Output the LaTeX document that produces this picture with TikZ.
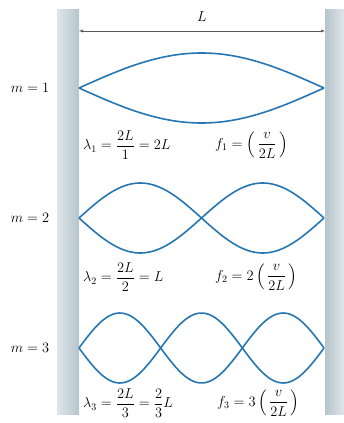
\documentclass[tikz,border=0pt]{standalone}
\usepackage{amsmath}
\usetikzlibrary{arrows.meta}

\definecolor{wireblue}{RGB}{38,118,178}
\definecolor{walldark}{RGB}{182,197,203}
\definecolor{walllight}{RGB}{222,230,233}

\tikzset{
  wall/.style={draw=none},
  wave/.style={wireblue, line width=1.6pt, line join=round},
  modelabel/.style={font=\fontsize{15}{18}\selectfont, anchor=center},
  formula/.style={font=\fontsize{14}{16}\selectfont, anchor=west, inner sep=0pt},
  dimline/.style={gray!70!black, line width=0.5pt, {Latex[length=4pt,width=3pt]}-{Latex[length=4pt,width=3pt]}}
}

\begin{document}
\begin{tikzpicture}[x=1pt, y=-1pt]
				\useasboundingbox (0,0) rectangle (344,423);
				
				% walls
				\shade[wall, left color=walllight, right color=walldark] (57,9) rectangle (79,414);
				\shade[wall, left color=walldark, right color=walllight] (325,9) rectangle (344,414);
				
				% length of the string
				\coordinate (leftend) at (79,31);
				\coordinate (rightend) at (325,31);
				\draw[dimline] (leftend) -- (rightend);
				\node[modelabel] (length) at (202,17) {$L$};
				
				% standing waves
				\foreach \m/\y in {1/88, 2/218, 3/348} {
					\draw[wave] plot[domain=0:245, samples=80] ({79+\x}, {\y-35*sin(\x/245*180*\m)});
					\draw[wave] plot[domain=0:245, samples=80] ({79+\x}, {\y+35*sin(\x/245*180*\m)});
				}
				
				\node[modelabel] (mone) at (30,88) {$m = 1$};
				\node[modelabel] (mtwo) at (30,218) {$m = 2$};
				\node[modelabel] (mthree) at (30,348) {$m = 3$};
				
				\node[formula] (lambdaone) at (83,145) {$\lambda_1 = \dfrac{2L}{1} = 2L$};
				\node[formula] (fone) at (215,145) {$f_1 = \left(\,\dfrac{v}{2L}\,\right)$};
				\node[formula] (lambdatwo) at (83,277) {$\lambda_2 = \dfrac{2L}{2} = L$};
				\node[formula] (ftwo) at (215,277) {$f_2 = 2\left(\,\dfrac{v}{2L}\,\right)$};
				\node[formula] (lambdathree) at (83,403) {$\lambda_3 = \dfrac{2L}{3} = \dfrac{2}{3}L$};
				\node[formula] (fthree) at (217,403) {$f_3 = 3\left(\,\dfrac{v}{2L}\,\right)$};
			\end{tikzpicture}
\end{document}
